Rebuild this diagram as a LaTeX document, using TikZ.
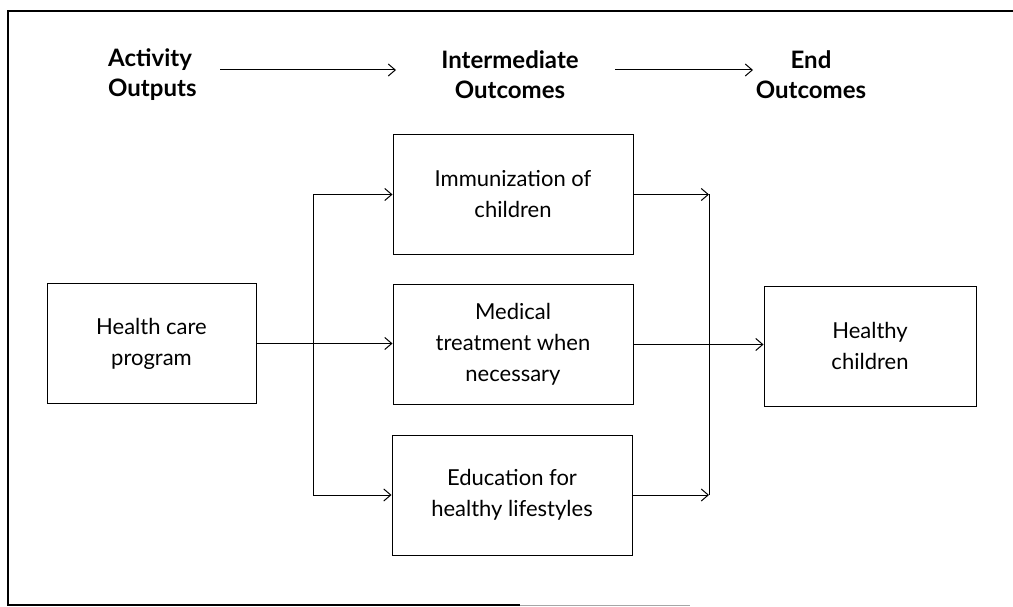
\documentclass[tikz,border=0pt]{standalone}
\usepackage{fontspec}
\setmainfont{Lato}
\usetikzlibrary{arrows.meta}
\begin{document}
\begin{tikzpicture}[x=1pt,y=-1pt,
  box/.style={draw, line width=1pt, minimum width=#1, minimum height=120pt, inner sep=0pt, align=center, font=\fontsize{22}{31}\selectfont},
  box/.default=240pt,
  head/.style={font=\bfseries\fontsize{24}{30}\selectfont, inner sep=0pt},
  arr/.style={line width=1pt, -{Straight Barb[length=7pt,width=12pt,line width=1pt]}},
  ln/.style={line width=1pt}]
\useasboundingbox (0,0) rectangle (1013,607);
% frame
\draw[line width=1.3pt] (1013,11) -- (8,11) -- (8,605) -- (520,605);
\draw[line width=1pt, black!35] (520,605) -- (690,605);
% headers
\node[head, anchor=west, align=left] (act) at (108,75) {Activity\\Outputs};
\node[head, align=center] (int) at (510,75) {Intermediate\\Outcomes};
\node[head, align=center] (end) at (811,75) {End\\Outcomes};
\coordinate (a1) at (220,70);
\coordinate (a2) at (396,70);
\coordinate (b1) at (615,70);
\coordinate (b2) at (753,70);
\draw[arr] (a1) -- (a2);
\draw[arr] (b1) -- (b2);
% boxes
\node[box=209pt] (hc) at (151.5,343.5) {Health care\\program};
\node[box] (imm) at (513,194.5) {Immunization of\\children};
\node[box] (med) at (513,344.5) {Medical\\treatment when\\necessary};
\node[box] (edu) at (512,495) {Education for\\healthy lifestyles};
\node[box=212pt] (hch) at (870,346) {Healthy\\children};
% junctions
\coordinate (jl) at (313,0);
\coordinate (jr) at (709,0);
\draw[ln] (jl |- imm.west) -- (jl |- edu.west);
\draw[arr] (jl |- imm.west) -- (imm.west);
\draw[arr] (jl |- edu.west) -- (edu.west);
\draw[arr] (hc.east) -- (hc.east -| med.west);
\draw[ln] (jr |- imm.east) -- (jr |- edu.east);
\draw[arr] (imm.east) -- (jr |- imm.east);
\draw[arr] (edu.east) -- (jr |- edu.east);
\draw[arr] (med.east) -- (med.east -| hch.west);
\end{tikzpicture}
\end{document}
